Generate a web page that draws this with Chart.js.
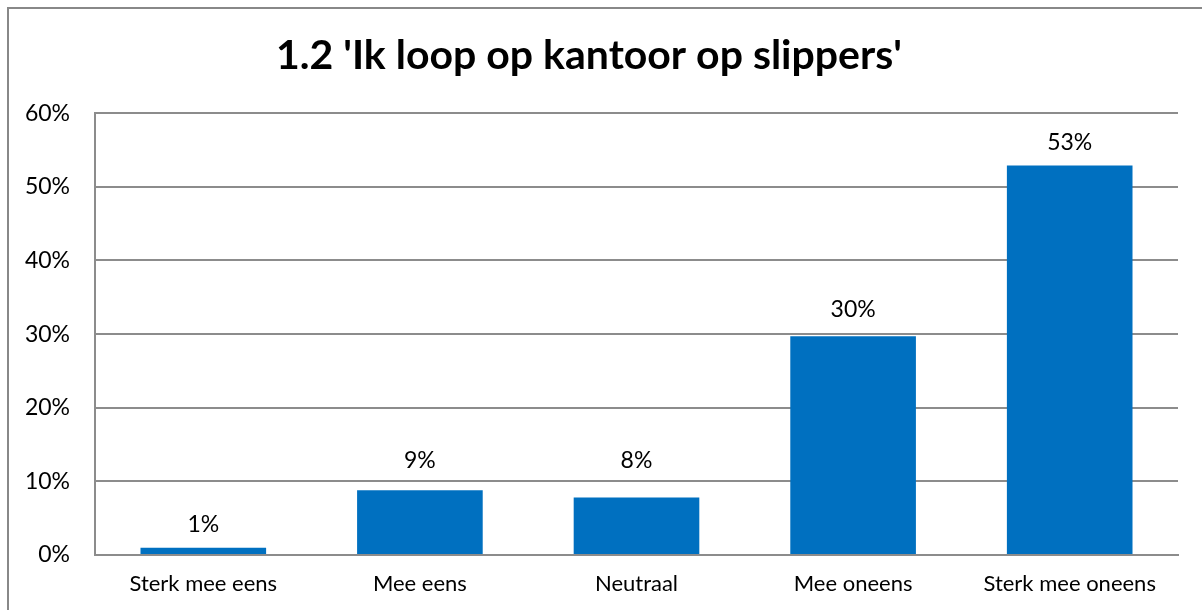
<!DOCTYPE html>
<html>
<head>
<meta charset="utf-8">
<script src="https://cdn.jsdelivr.net/npm/chart.js@4"></script>
<style>
html,body{margin:0;padding:0;background:#fff;overflow:hidden;}
#wrap{position:relative;width:1202px;height:610px;overflow:hidden;}
canvas{display:block;}
</style>
</head>
<body>
<div id="wrap"><canvas id="c" width="1202" height="610"></canvas></div>
<script>
const categories = ['Sterk mee eens', 'Mee eens', 'Neutraal', 'Mee oneens', 'Sterk mee oneens'];
const values = [1.0, 8.8, 7.8, 29.7, 52.9];
const valueLabels = ['1%', '9%', '8%', '30%', '53%'];
const yTicks = [0, 10, 20, 30, 40, 50, 60];
const titleText = "1.2 'Ik loop op kantoor op slippers'";

const FONT = 'Lato, "Open Sans", sans-serif';
const GRID = '#8c8c8c';

const frame = {
  id: 'frame',
  beforeDraw(chart) {
    const ctx = chart.ctx;
    ctx.save();
    ctx.fillStyle = '#fff';
    ctx.fillRect(0, 0, chart.width, chart.height);
    ctx.strokeStyle = '#888';
    ctx.lineWidth = 2;
    ctx.beginPath();
    ctx.moveTo(8, 620);
    ctx.lineTo(8, 8);
    ctx.lineTo(1210, 8);
    ctx.stroke();
    ctx.restore();
  }
};

const barLabels = {
  id: 'barLabels',
  afterDatasetsDraw(chart, args, opts) {
    const ctx = chart.ctx;
    const meta = chart.getDatasetMeta(0);
    const lift = opts.lift || [];
    ctx.save();
    ctx.font = '23px ' + FONT;
    ctx.fillStyle = '#000';
    ctx.textAlign = 'center';
    ctx.textBaseline = 'alphabetic';
    meta.data.forEach((bar, i) => {
      ctx.fillText(valueLabels[i], bar.x, bar.y - (lift[i] ?? 16));
    });
    ctx.restore();
  }
};

new Chart(document.getElementById('c'), {
  type: 'bar',
  data: {
    labels: categories,
    datasets: [{
      data: values,
      backgroundColor: '#0070C0',
      borderWidth: 0,
      categoryPercentage: 1.0,
      barPercentage: 0.58
    }]
  },
  options: {
    responsive: false,
    animation: false,
    devicePixelRatio: 1,
    layout: { padding: { top: 0, right: 24, bottom: 0, left: 0 } },
    plugins: {
      legend: { display: false },
      tooltip: { enabled: false },
      barLabels: { lift: [16, 22, 30, 19, 15] },
      title: {
        display: true,
        text: titleText,
        color: '#000',
        font: { family: FONT, size: 41, weight: 'bold' },
        padding: { top: 31, bottom: 33 }
      }
    },
    scales: {
      x: {
        grid: { display: false, drawTicks: false },
        border: { display: true, color: GRID, width: 2 },
        ticks: { color: '#000', font: { family: FONT, size: 22 }, padding: 16, maxRotation: 0 },
        afterFit(s) { s.height = 55; }
      },
      y: {
        min: 0, max: 60,
        afterBuildTicks(s) { s.ticks = yTicks.map(v => ({ value: v })); },
        grid: { color: GRID, lineWidth: 2, drawTicks: false },
        border: { display: true, color: GRID, width: 2 },
        ticks: {
          color: '#000',
          font: { family: FONT, size: 23 },
          padding: 25,
          callback: v => v + '%'
        },
        afterFit(s) { s.width = 95; }
      }
    }
  },
  plugins: [frame, barLabels]
});
</script>
</body>
</html>
